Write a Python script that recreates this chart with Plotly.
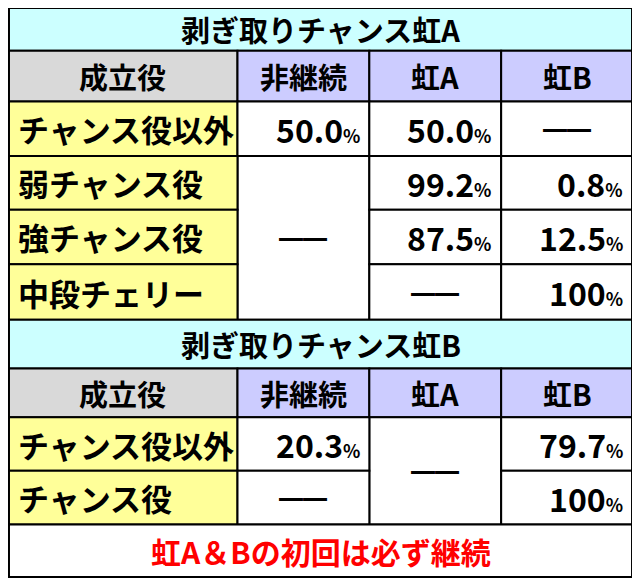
import plotly.graph_objects as go

# table content
titles = ["剥ぎ取りチャンス虹A", "剥ぎ取りチャンス虹B"]
headers = ["成立役", "非継続", "虹A", "虹B"]
rows_a = ["チャンス役以外", "弱チャンス役", "強チャンス役", "中段チェリー"]
vals_a = [["50.0", "50.0", None], [None, "99.2", "0.8"], [None, "87.5", "12.5"], [None, None, "100"]]
rows_b = ["チャンス役以外", "チャンス役"]
vals_b = [["20.3", None, "79.7"], [None, None, "100"]]
note = "虹A＆Bの初回は必ず継続"

# layout grid (pixels)
col_x = [0, 235, 370, 505, 640]
row_y_a = [0, 44, 96, 152, 207, 263, 320]
row_y_b = [320, 370, 420, 475, 530]
H = 585
CYAN, GREY, PURPLE, YELLOW = "#ccffff", "#d9d9d9", "#ccccff", "#ffff99"
FONT = "Noto Sans CJK JP"

fig = go.Figure()
shapes, anns = [], []

def rect(x0, y0, x1, y1, fill):
    shapes.append(dict(type="rect", x0=x0, x1=x1, y0=y0, y1=y1, fillcolor=fill,
                       line=dict(color="black", width=2), layer="below"))

def text(x, y, s, anchor="center", size=30, color="black"):
    anns.append(dict(x=x, y=y, text="<b>" + s + "</b>", showarrow=False, xanchor=anchor,
                     yanchor="middle", font=dict(family=FONT, size=size, color=color)))

def pct(v):
    return v + "<span style='font-size:18px'>%</span>"

DASH = "━━"

def block(title, ry, labels, vals, merges):
    rect(1, ry[0], 639, ry[1], CYAN)
    text(320, (ry[0] + ry[1]) / 2, title, size=29)
    for i, h in enumerate(headers):
        rect(max(col_x[i], 1), ry[1], min(col_x[i + 1], 639), ry[2], GREY if i == 0 else PURPLE)
        text((col_x[i] + col_x[i + 1]) / 2, (ry[1] + ry[2]) / 2, h, size=29)
    merged = {}
    for c, (r0, r1) in merges.items():
        rect(col_x[c + 1], ry[r0 + 2], min(col_x[c + 2], 639), ry[r1 + 3], "white")
        text((col_x[c + 1] + col_x[c + 2]) / 2, (ry[r0 + 2] + ry[r1 + 3]) / 2, DASH, size=24)
        for r in range(r0, r1 + 1):
            merged[(r, c)] = True
    for r, lab in enumerate(labels):
        y0, y1 = ry[r + 2], ry[r + 3]
        rect(1, y0, col_x[1], y1, YELLOW)
        text(8, (y0 + y1) / 2, lab, anchor="left", size=31)
        for c, v in enumerate(vals[r]):
            if (r, c) in merged:
                continue
            rect(col_x[c + 1], y0, min(col_x[c + 2], 639), y1, "white")
            if v is None:
                text((col_x[c + 1] + col_x[c + 2]) / 2, (y0 + y1) / 2, DASH, size=24)
            else:
                text(col_x[c + 2] - 8, (y0 + y1) / 2, pct(v), anchor="right", size=32)

block(titles[0], row_y_a, rows_a, vals_a, {0: (1, 3)})
block(titles[1], row_y_b, rows_b, vals_b, {1: (0, 1)})
rect(1, 530, 639, H - 1, "white")
text(320, 557, note, color="#ff0000", size=30)

fig.update_layout(width=625, height=570, margin=dict(l=0, r=0, t=0, b=0),
                  paper_bgcolor="white", plot_bgcolor="white", shapes=shapes, annotations=anns,
                  xaxis=dict(range=[0, 640], visible=False, fixedrange=True),
                  yaxis=dict(range=[H, 0], visible=False, fixedrange=True), showlegend=False)
fig.write_html("out.html", config={"displayModeBar": False})
